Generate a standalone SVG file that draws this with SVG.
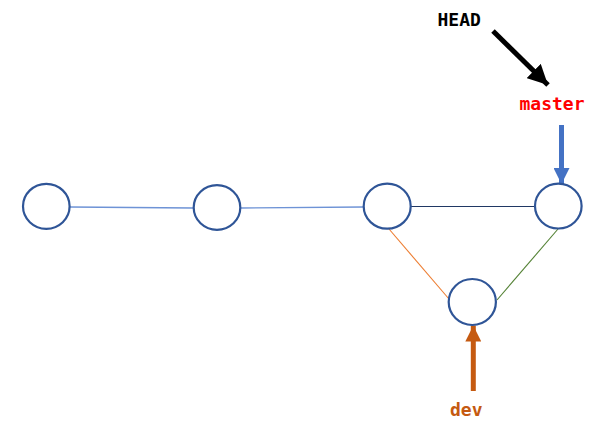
<svg xmlns="http://www.w3.org/2000/svg" width="610" height="428" viewBox="0 0 610 428">
<style>
.node{fill:#fff;stroke:#2F5597;stroke-width:2.2}
.lbl{font-family:"DejaVu Sans Mono","Liberation Mono",monospace;font-weight:bold;font-size:18px}
</style>
<defs>
<marker id="hBlack" markerUnits="userSpaceOnUse" markerWidth="20" markerHeight="20" refX="16" refY="8" orient="auto" viewBox="0 0 16 16"><path d="M0,0 L16,8 L0,16 Z" fill="#000"/></marker>
<marker id="hBlue" markerUnits="userSpaceOnUse" markerWidth="16" markerHeight="16" refX="15" refY="7.5" orient="auto" viewBox="0 0 15 15"><path d="M0,0 L15,7.5 L0,15 Z" fill="#4472C4"/></marker>
<marker id="hOrange" markerUnits="userSpaceOnUse" markerWidth="16" markerHeight="16" refX="15" refY="7.5" orient="auto" viewBox="0 0 15 15"><path d="M0,0 L15,7.5 L0,15 Z" fill="#C55A11"/></marker>
</defs>
<g id="connectors">
<line x1="70" y1="207" x2="193" y2="208" stroke="#6E93D6" stroke-width="1.3"/>
<line x1="241" y1="208" x2="363" y2="207" stroke="#6E93D6" stroke-width="1.3"/>
<line x1="411" y1="206.5" x2="535" y2="206.5" stroke="#203864" stroke-width="1.1"/>
<line x1="389" y1="229" x2="449" y2="299" stroke="#ED7D31" stroke-width="1.1"/>
<line x1="497" y1="300" x2="558" y2="229" stroke="#548235" stroke-width="1.1"/>
<line x1="493" y1="31" x2="548" y2="85" stroke="#000" stroke-width="5" marker-end="url(#hBlack)"/>
<line x1="561.5" y1="125" x2="561.5" y2="184" stroke="#4472C4" stroke-width="5" marker-end="url(#hBlue)"/>
<line x1="473.3" y1="391" x2="473.3" y2="325.5" stroke="#C55A11" stroke-width="5" marker-end="url(#hOrange)"/>
</g>
<g id="n1"><ellipse class="node" cx="46.3" cy="206.3" rx="23.3" ry="22.5"/></g>
<g id="n2"><ellipse class="node" cx="217" cy="207.5" rx="23.3" ry="22.3"/></g>
<g id="n3"><ellipse class="node" cx="387.2" cy="206.2" rx="23.5" ry="22.5"/></g>
<g id="n4"><ellipse class="node" cx="558.3" cy="206.1" rx="23.3" ry="22.4"/></g>
<g id="n5"><ellipse class="node" cx="472.3" cy="302" rx="23.6" ry="23"/></g>
<g id="HEAD"><text class="lbl" x="437.5" y="26" fill="#000">HEAD</text></g>
<g id="master"><text class="lbl" x="519.5" y="109.5" fill="#FF0000">master</text></g>
<g id="dev"><text class="lbl" x="450" y="415.5" fill="#C55A11">dev</text></g>
</svg>
